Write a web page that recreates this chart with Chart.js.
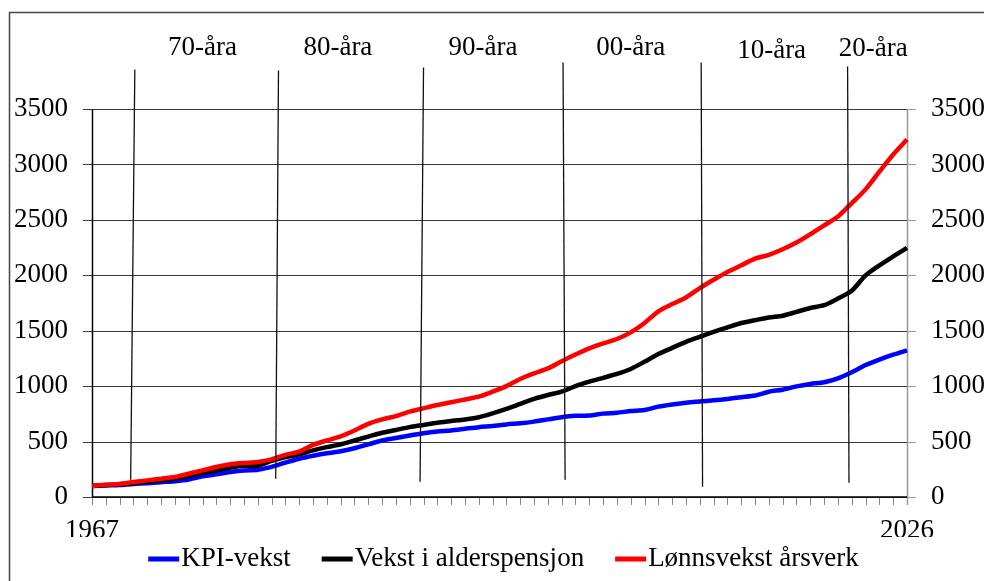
<!DOCTYPE html>
<html>
<head>
<meta charset="utf-8">
<script src="https://cdn.jsdelivr.net/npm/chart.js@4.4.1/dist/chart.umd.min.js"></script>
<style>
    html, body { margin: 0; padding: 0; background: #fff; }
    canvas { background: #fff; display: block; }
</style>
</head>
<body>
<canvas id="chart" width="984" height="581"></canvas>
<script>
const years = [
    '1967', '1968', '1969', '1970', '1971', '1972', '1973', '1974', '1975', '1976',
    '1977', '1978', '1979', '1980', '1981', '1982', '1983', '1984', '1985', '1986',
    '1987', '1988', '1989', '1990', '1991', '1992', '1993', '1994', '1995', '1996',
    '1997', '1998', '1999', '2000', '2001', '2002', '2003', '2004', '2005', '2006',
    '2007', '2008', '2009', '2010', '2011', '2012', '2013', '2014', '2015', '2016',
    '2017', '2018', '2019', '2020', '2021', '2022', '2023', '2024', '2025', '2026'
];

let dataKPI = [
    100, 104, 108, 118, 125, 134, 143, 158, 186, 205,
    225, 240, 246, 272, 310, 345, 372, 395, 412, 440,
    475, 510, 532, 555, 575, 590, 600, 615, 630, 640,
    655, 665, 680, 700, 720, 732, 735, 752, 760, 775,
    785, 815, 835, 850, 862, 872, 885, 900, 915, 950,
    968, 998, 1020, 1035, 1070, 1125, 1190, 1240, 1284, 1323
];

let dataPension = [
    100, 108, 115, 125, 138, 150, 165, 190, 216, 240,
    265, 282, 282, 325, 360, 385, 420, 450, 475, 510,
    545, 580, 605, 630, 650, 670, 685, 700, 720, 755,
    795, 840, 885, 920, 950, 1000, 1040, 1075, 1110, 1155,
    1220, 1290, 1345, 1400, 1445, 1490, 1530, 1570, 1595, 1620,
    1635, 1670, 1705, 1730, 1790, 1860, 2000, 2090, 2170, 2247
];

let dataWages = [
    100, 110, 118, 135, 150, 165, 180, 210, 240, 270,
    295, 307, 316, 340, 380, 410, 470, 510, 547, 600,
    660, 700, 730, 770, 800, 830, 855, 880, 905, 950,
    1000, 1065, 1115, 1160, 1225, 1285, 1340, 1385, 1425, 1485,
    1570, 1675, 1740, 1800, 1885, 1960, 2030, 2090, 2150, 2185,
    2235, 2295, 2370, 2450, 2530, 2650, 2775, 2935, 3090, 3225
];

const yMin = 0;
const yMax = 3500;
const yStep = 500;

// tiåra-streker: x i år (topp/bunn), y i verdier på aksen
const decades = [
    { label: '70-åra', xTop: 1970.1, xBottom: 1969.8, yTop: 3856, yBottom: 156, xText: 1975.0, yText: 4050 },
    { label: '80-åra', xTop: 1980.5, xBottom: 1980.3, yTop: 3847, yBottom: 165, xText: 1984.8, yText: 4050 },
    { label: '90-åra', xTop: 1991.0, xBottom: 1990.75, yTop: 3875, yBottom: 138, xText: 1995.3, yText: 4050 },
    { label: '00-åra', xTop: 2001.1, xBottom: 2001.25, yTop: 3920, yBottom: 156, xText: 2006.0, yText: 4050 },
    { label: '10-åra', xTop: 2011.1, xBottom: 2011.2, yTop: 3920, yBottom: 93, xText: 2016.2, yText: 4025 },
    { label: '20-åra', xTop: 2021.7, xBottom: 2021.8, yTop: 3884, yBottom: 129, xText: 2023.55, yText: 4045 }
];

const font = { family: '"Liberation Serif", "Times New Roman", serif', size: 27 };
const fontCss = '27px "Liberation Serif", "Times New Roman", serif';

function yearToPixel(chart, year) {
    const x = chart.scales.x;
    const x0 = x.getPixelForValue(0);
    const x1 = x.getPixelForValue(years.length - 1);
    return x0 + (year - Number(years[0])) * (x1 - x0) / (years.length - 1);
}

// gridlinjer, tick-streker og ramme tegnes her, ut fra skalaene
const axesPlugin = {
    id: 'axesLines',
    beforeDatasetsDraw(chart) {
        const ctx = chart.ctx;
        const area = chart.chartArea;
        const y = chart.scales.y;
        const x = chart.scales.x;
        ctx.save();
        ctx.lineWidth = 1;
        // horisontale gridlinjer + ticks på begge sider
        y.ticks.forEach(t => {
            const py = Math.round(y.getPixelForValue(t.value)) + 0.5;
            ctx.strokeStyle = '#3a3a3a';
            ctx.beginPath();
            ctx.moveTo(area.left - 9, py);
            ctx.lineTo(area.right, py);
            ctx.stroke();
            ctx.strokeStyle = '#999';
            ctx.beginPath();
            ctx.moveTo(area.right, py);
            ctx.lineTo(area.right + 9, py);
            ctx.stroke();
        });
        // tick-streker på x-aksen
        ctx.strokeStyle = '#888';
        years.forEach((yr, i) => {
            const px = Math.round(x.getPixelForValue(i)) + 0.5;
            ctx.beginPath();
            ctx.moveTo(px, area.bottom);
            ctx.lineTo(px, area.bottom + 8);
            ctx.stroke();
        });
        // høyre akselinje (grå)
        ctx.strokeStyle = '#999';
        ctx.lineWidth = 1.5;
        ctx.beginPath();
        ctx.moveTo(Math.round(area.right) + 0.5, area.top);
        ctx.lineTo(Math.round(area.right) + 0.5, area.bottom + 8);
        ctx.stroke();
        // venstre akselinje og x-akse (svart)
        ctx.strokeStyle = '#000';
        ctx.beginPath();
        ctx.moveTo(Math.round(area.left) + 0.5, area.top);
        ctx.lineTo(Math.round(area.left) + 0.5, area.bottom);
        ctx.lineTo(area.right, area.bottom);
        ctx.stroke();
        ctx.restore();
    },
    afterDraw(chart) {
        const ctx = chart.ctx;
        ctx.save();
        ctx.strokeStyle = '#444';
        ctx.lineWidth = 1.5;
        ctx.beginPath();
        ctx.moveTo(9.5, chart.height);
        ctx.lineTo(9.5, 12.5);
        ctx.lineTo(chart.width, 12.5);
        ctx.stroke();
        ctx.restore();
    }
};

const decadePlugin = {
    id: 'decades',
    afterDatasetsDraw(chart) {
        const ctx = chart.ctx;
        const y = chart.scales.y;
        ctx.save();
        ctx.strokeStyle = '#111';
        ctx.lineWidth = 1.3;
        ctx.fillStyle = '#000';
        ctx.font = fontCss;
        ctx.textAlign = 'center';
        ctx.textBaseline = 'middle';
        decades.forEach(d => {
            ctx.beginPath();
            ctx.moveTo(yearToPixel(chart, d.xTop), y.getPixelForValue(d.yTop));
            ctx.lineTo(yearToPixel(chart, d.xBottom), y.getPixelForValue(d.yBottom));
            ctx.stroke();
            ctx.fillText(d.label, yearToPixel(chart, d.xText), y.getPixelForValue(d.yText));
        });
        ctx.restore();
    }
};

const legendPlugin = {
    id: 'bottomLegend',
    afterDraw(chart) {
        const ctx = chart.ctx;
        ctx.save();
        ctx.font = fontCss;
        const box = 31, gap = 2, space = 31;
        const items = chart.data.datasets.map(d => ({
            label: d.label,
            color: d.borderColor,
            w: ctx.measureText(d.label).width
        }));
        const total = items.reduce((s, it) => s + box + gap + it.w, 0) + space * (items.length - 1);
        const area = chart.chartArea;
        let x = (area.left + area.right) / 2 + 4 - total / 2;
        const yMid = 559;
        ctx.textBaseline = 'middle';
        ctx.textAlign = 'left';
        items.forEach(it => {
            ctx.strokeStyle = it.color;
            ctx.lineWidth = 5;
            ctx.beginPath();
            ctx.moveTo(x, yMid);
            ctx.lineTo(x + box, yMid);
            ctx.stroke();
            ctx.fillStyle = '#000';
            ctx.fillText(it.label, x + box + gap, yMid);
            x += box + gap + it.w + space;
        });
        ctx.restore();
    }
};

const dataChart = {
    labels: years,
    datasets: [
        {
            label: 'KPI-vekst',
            borderColor: 'rgb(0, 0, 255)',
            backgroundColor: 'rgb(0, 0, 255)',
            data: dataKPI,
            order: 3
        },
        {
            label: 'Vekst i alderspensjon',
            borderColor: 'rgb(0, 0, 0)',
            backgroundColor: 'rgb(0, 0, 0)',
            data: dataPension,
            order: 2
        },
        {
            label: 'Lønnsvekst årsverk',
            borderColor: 'rgb(255, 0, 0)',
            backgroundColor: 'rgb(255, 0, 0)',
            data: dataWages,
            order: 1
        }
    ]
};

const chartConfig = {
    type: 'line',
    data: dataChart,
    options: {
        responsive: false,
        animation: false,
        devicePixelRatio: 1,
        layout: {
            padding: { top: 109, bottom: 44, left: 0, right: 0 }
        },
        elements: {
            point: { radius: 0 },
            line: { borderWidth: 4.5, tension: 0.25 }
        },
        scales: {
            x: {
                type: 'category',
                offset: false,
                grid: { display: false, tickLength: 8 },
                border: { display: false },
                ticks: {
                    autoSkip: false,
                    maxRotation: 0,
                    minRotation: 0,
                    padding: 10,
                    color: '#000',
                    font,
                    callback: function(value, index) {
                        if (index === 0 || index === years.length - 1) return years[index];
                        return '';
                    }
                },
                afterFit: s => { s.height = 40; }
            },
            y: {
                position: 'left',
                min: yMin,
                max: yMax,
                ticks: {
                    stepSize: yStep,
                    padding: 16,
                    color: '#000',
                    font,
                    callback: value => String(value)
                },
                grid: { display: false, tickLength: 8 },
                border: { display: false },
                afterFit: s => { s.width = 92; }
            },
            y2: {
                position: 'right',
                min: yMin,
                max: yMax,
                ticks: {
                    stepSize: yStep,
                    padding: 16,
                    color: '#000',
                    font,
                    callback: value => String(value)
                },
                grid: { display: false, tickLength: 8 },
                border: { display: false },
                afterFit: s => { s.width = 77; }
            }
        },
        plugins: {
            legend: { display: false },
            tooltip: { enabled: false }
        }
    },
    plugins: [axesPlugin, decadePlugin, legendPlugin]
};

const chart = new Chart(
    document.querySelector('#chart'),
    chartConfig
);
</script>
</body>
</html>
